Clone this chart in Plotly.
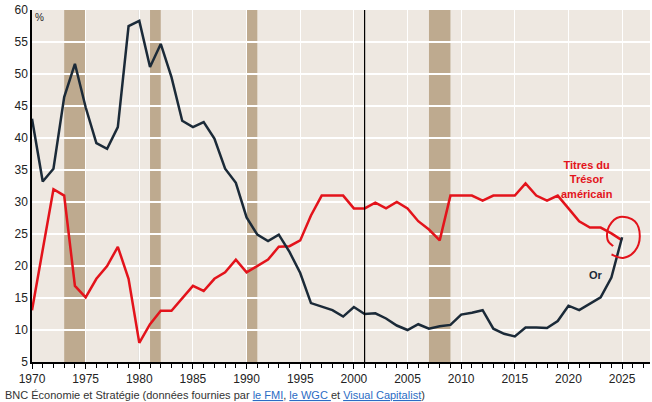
import plotly.graph_objects as go

years = list(range(1970, 2026))

gold = [43.0, 33.2, 35.2, 46.4, 51.6, 44.8, 39.2, 38.3, 41.7, 57.5,
        58.3, 51.1, 54.7, 49.5, 42.7, 41.7, 42.5, 39.9, 35.2, 33.0,
        27.6, 24.9, 23.9, 24.9, 22.2, 18.9, 14.2, 13.6, 13.1, 12.1,
        13.6, 12.5, 12.6, 11.8, 10.7, 10.0, 10.9, 10.2, 10.6, 10.8,
        12.4, 12.7, 13.1, 10.2, 9.4, 9.0, 10.4, 10.4, 10.3, 11.4,
        13.8, 13.1, 14.1, 15.1, 18.2, 24.5]

treasury = [13.1, 22.8, 32.0, 31.0, 16.9, 15.1, 18.0, 20.0, 23.0, 18.0,
            8.0, 10.9, 13.0, 13.0, 14.9, 16.9, 16.1, 18.0, 19.0, 21.0,
            19.0, 20.0, 21.0, 23.0, 23.1, 24.0, 27.9, 31.0, 31.0, 31.0,
            29.0, 29.0, 29.9, 29.0, 30.0, 29.0, 27.0, 25.7, 24.0, 31.0,
            31.0, 31.0, 30.2, 31.0, 31.0, 31.0, 32.9, 31.0, 30.2, 31.0,
            29.0, 27.0, 26.0, 26.0, 25.1, 24.0]

recessions = [(1973, 1975), (1981, 1982), (1990, 1991), (2007, 2009)]
marker_year = 2001

y_ticks = list(range(5, 61, 5))
x_ticks = list(range(1970, 2026, 5))

GOLD_COLOR = "#1B2A38"
RED = "#E3131B"
BG = "#EEE8E1"
BAND = "#BEAA8F"

fig = go.Figure()

fig.add_trace(go.Scatter(x=years, y=treasury, mode="lines",
                         line=dict(color=RED, width=2.5), showlegend=False))
fig.add_trace(go.Scatter(x=years, y=gold, mode="lines",
                         line=dict(color=GOLD_COLOR, width=2.5), showlegend=False))

shapes = []
for a, b in recessions:
    shapes.append(dict(type="rect", xref="x", yref="paper", x0=a, x1=b, y0=0, y1=1,
                       fillcolor=BAND, line=dict(width=0), layer="below"))
shapes.append(dict(type="line", xref="x", yref="paper", x0=1980, x1=1980, y0=0, y1=1,
                   line=dict(color="#C9CDD0", width=1), layer="below"))
shapes.append(dict(type="line", xref="x", yref="paper", x0=marker_year, x1=marker_year,
                   y0=0, y1=1, line=dict(color="black", width=1.2)))

# hand-drawn red circle around the last gold point (pixel offsets, y up)
pts = [(-9, -9), (-14.6, -2.3), (-13, 11), (-2.3, 20.3), (12.7, 16), (17.7, 1),
       (12.7, -14), (1, -20.7), (-10.6, -17.3)]


def catmull(points):
    d = "M %.1f,%.1f" % points[0]
    n = len(points)
    for i in range(n - 1):
        p0 = points[i - 1] if i > 0 else points[i]
        p1 = points[i]
        p2 = points[i + 1]
        p3 = points[i + 2] if i + 2 < n else points[i + 1]
        c1 = (p1[0] + (p2[0] - p0[0]) / 6, p1[1] + (p2[1] - p0[1]) / 6)
        c2 = (p2[0] - (p3[0] - p1[0]) / 6, p2[1] - (p3[1] - p1[1]) / 6)
        d += " C %.1f,%.1f %.1f,%.1f %.1f,%.1f" % (c1 + c2 + p2)
    return d


shapes.append(dict(type="path", xref="x", yref="y", xsizemode="pixel", ysizemode="pixel",
                   xanchor=years[-1], yanchor=gold[-1], path=catmull(pts),
                   line=dict(color=RED, width=2)))

annotations = [
    dict(x=0.001, y=1.0, xref="paper", yref="paper", text="%", showarrow=False,
         xanchor="left", yanchor="top", font=dict(size=10, color="#222")),
    dict(x=2021.7, y=33.5, xref="x", yref="y",
         text="<b>Titres du<br>Trésor<br>américain</b>", showarrow=False,
         font=dict(size=11, color=RED, family="Liberation Sans, Arial"), align="center"),
    dict(x=2022.6, y=18.6, xref="x", yref="y", text="<b>Or</b>", showarrow=False,
         font=dict(size=11, color=GOLD_COLOR, family="Liberation Sans, Arial")),
    dict(x=-0.047, y=-0.094, xref="paper", yref="paper", xanchor="left", yanchor="middle",
         showarrow=False, font=dict(size=11, color="#333", family="Liberation Sans, Arial"),
         text="BNC Économie et Stratégie (données fournies par "
              "<span style='color:#2B6CC4'><u>le FMI</u></span>, "
              "<span style='color:#2B6CC4'><u>le WGC </u></span>et "
              "<span style='color:#2B6CC4'><u>Visual Capitalist</u></span>)"),
]

fig.update_layout(
    width=652, height=402,
    margin=dict(l=32, r=2, t=10, b=40),
    paper_bgcolor="white", plot_bgcolor=BG,
    font=dict(family="Liberation Sans, Arial", size=12, color="#222"),
    shapes=shapes, annotations=annotations,
    xaxis=dict(range=[1970, 2027.6], tickvals=x_ticks, ticks="outside", ticklen=5,
               tickcolor="black", showline=True, linecolor="black", linewidth=1.5,
               showgrid=True, gridcolor="white", gridwidth=1, dtick=10, tick0=1970,
               minor=dict(dtick=1, tick0=1970, ticks="outside", ticklen=4,
                          tickcolor="black", showgrid=False),
               tickfont=dict(size=12), zeroline=False),
    yaxis=dict(range=[5, 60], tickvals=y_ticks, showline=True, linecolor="black",
               linewidth=1.5, showgrid=True, gridcolor="white", gridwidth=1.5,
               ticks="", tickfont=dict(size=12), zeroline=False),
)

fig.write_html("out.html", config={"displayModeBar": False},
               post_script="document.body.style.margin='0';document.body.style.overflow='hidden';")
